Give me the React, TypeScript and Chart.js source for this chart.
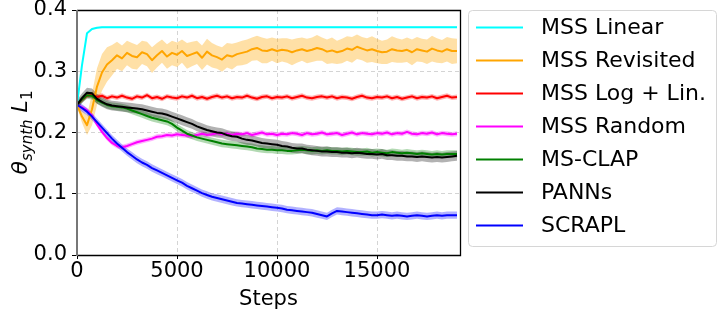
import React, { useEffect, useRef } from "react";
import { Chart, registerables } from "chart.js";

Chart.register(...registerables);

const STEPS = [
  0, 250, 500, 750, 1000, 1250, 1500, 1750, 2000, 2250,
  2500, 2750, 3000, 3250, 3500, 3750, 4000, 4250, 4500, 4750,
  5000, 5250, 5500, 5750, 6000, 6250, 6500, 6750, 7000, 7250,
  7500, 7750, 8000, 8250, 8500, 8750, 9000, 9250, 9500, 9750,
  10000, 10250, 10500, 10750, 11000, 11250, 11500, 11750, 12000, 12250,
  12500, 12750, 13000, 13250, 13500, 13750, 14000, 14250, 14500, 14750,
  15000, 15250, 15500, 15750, 16000, 16250, 16500, 16750, 17000, 17250,
  17500, 17750, 18000, 18250, 18500, 18750, 19000,
];

const X_TICKS = [0, 5000, 10000, 15000];
const Y_TICKS = [0.0, 0.1, 0.2, 0.3, 0.4];

const SERIES_NAMES = [
  "MSS Linear",
  "MSS Revisited",
  "MSS Log + Lin.",
  "MSS Random",
  "MS-CLAP",
  "PANNs",
  "SCRAPL",
];

const MSS_LINEAR = [
  0.245, 0.310, 0.362, 0.369, 0.371, 0.372, 0.372, 0.372, 0.372, 0.372,
  0.372, 0.372, 0.372, 0.372, 0.372, 0.372, 0.372, 0.372, 0.372, 0.372,
  0.372, 0.372, 0.372, 0.372, 0.372, 0.372, 0.372, 0.372, 0.372, 0.372,
  0.372, 0.372, 0.372, 0.372, 0.372, 0.372, 0.372, 0.372, 0.372, 0.372,
  0.372, 0.372, 0.372, 0.372, 0.372, 0.372, 0.372, 0.372, 0.372, 0.372,
  0.372, 0.372, 0.372, 0.372, 0.372, 0.372, 0.372, 0.372, 0.372, 0.372,
  0.372, 0.372, 0.372, 0.372, 0.372, 0.372, 0.372, 0.372, 0.372, 0.372,
  0.372, 0.372, 0.372, 0.372, 0.372, 0.372, 0.372,
];

const MSS_REVISITED = [
  0.245, 0.226, 0.212, 0.238, 0.275, 0.298, 0.311, 0.318, 0.326, 0.321,
  0.330, 0.325, 0.323, 0.331, 0.328, 0.318, 0.326, 0.333, 0.324, 0.330,
  0.327, 0.333, 0.325, 0.328, 0.331, 0.322, 0.332, 0.326, 0.323, 0.319,
  0.326, 0.324, 0.328, 0.330, 0.332, 0.336, 0.338, 0.334, 0.333, 0.336,
  0.333, 0.335, 0.334, 0.331, 0.334, 0.336, 0.333, 0.335, 0.338, 0.336,
  0.332, 0.334, 0.331, 0.333, 0.337, 0.335, 0.340, 0.337, 0.334, 0.336,
  0.333, 0.331, 0.332, 0.336, 0.334, 0.333, 0.335, 0.331, 0.336, 0.334,
  0.332, 0.337, 0.334, 0.332, 0.336, 0.333, 0.333,
];

const MSS_REVISITED_SPREAD = [
  0.003, 0.010, 0.016, 0.026, 0.030, 0.030, 0.028, 0.025, 0.022, 0.021,
  0.020, 0.021, 0.020, 0.019, 0.020, 0.021, 0.020, 0.019, 0.020, 0.020,
  0.020, 0.019, 0.021, 0.020, 0.019, 0.020, 0.021, 0.020, 0.019, 0.020,
  0.020, 0.021, 0.019, 0.020, 0.020, 0.019, 0.020, 0.021, 0.020, 0.019,
  0.020, 0.019, 0.020, 0.021, 0.020, 0.019, 0.020, 0.020, 0.021, 0.019,
  0.020, 0.021, 0.019, 0.020, 0.020, 0.021, 0.020, 0.019, 0.020, 0.021,
  0.020, 0.019, 0.020, 0.021, 0.020, 0.019, 0.020, 0.021, 0.020, 0.019,
  0.020, 0.021, 0.020, 0.019, 0.020, 0.021, 0.020,
];

const MSS_LOG_LIN = [
  0.245, 0.254, 0.260, 0.262, 0.258, 0.260, 0.256, 0.259, 0.257, 0.260,
  0.257, 0.255, 0.259, 0.257, 0.261, 0.256, 0.258, 0.255, 0.259, 0.257,
  0.256, 0.259, 0.257, 0.260, 0.256, 0.258, 0.255, 0.258, 0.260, 0.257,
  0.259, 0.256, 0.258, 0.257, 0.260, 0.257, 0.255, 0.258, 0.259, 0.256,
  0.258, 0.257, 0.259, 0.256, 0.258, 0.260, 0.257, 0.256, 0.258, 0.259,
  0.257, 0.259, 0.256, 0.258, 0.257, 0.255, 0.258, 0.260, 0.257, 0.256,
  0.258, 0.257, 0.259, 0.256, 0.258, 0.255, 0.257, 0.259, 0.256, 0.258,
  0.257, 0.259, 0.256, 0.258, 0.260, 0.257, 0.258,
];

const MSS_RANDOM = [
  0.245, 0.241, 0.236, 0.228, 0.213, 0.201, 0.191, 0.183, 0.178, 0.176,
  0.178, 0.181, 0.184, 0.186, 0.188, 0.190, 0.193, 0.194, 0.196, 0.195,
  0.197, 0.196, 0.195, 0.194, 0.196, 0.198, 0.196, 0.197, 0.199, 0.197,
  0.198, 0.196, 0.198, 0.197, 0.199, 0.196, 0.198, 0.200, 0.197, 0.198,
  0.196, 0.198, 0.197, 0.199, 0.198, 0.196, 0.199, 0.197, 0.198, 0.200,
  0.197, 0.198, 0.199, 0.196, 0.198, 0.200, 0.197, 0.199, 0.198, 0.197,
  0.199, 0.198, 0.200, 0.197, 0.199, 0.198, 0.201, 0.198, 0.197, 0.199,
  0.198, 0.200, 0.197, 0.199, 0.198, 0.197, 0.198,
];

const MS_CLAP = [
  0.245, 0.254, 0.261, 0.260, 0.253, 0.249, 0.245, 0.243, 0.242, 0.241,
  0.239, 0.236, 0.233, 0.230, 0.227, 0.224, 0.222, 0.220, 0.218, 0.214,
  0.208, 0.203, 0.198, 0.195, 0.192, 0.190, 0.188, 0.186, 0.184, 0.182,
  0.181, 0.180, 0.179, 0.178, 0.177, 0.176, 0.174, 0.173, 0.172, 0.172,
  0.171, 0.171, 0.170, 0.170, 0.171, 0.172, 0.171, 0.170, 0.171, 0.170,
  0.171, 0.170, 0.170, 0.169, 0.170, 0.169, 0.168, 0.168, 0.169, 0.167,
  0.168, 0.167, 0.166, 0.168, 0.167, 0.166, 0.167, 0.166, 0.165, 0.166,
  0.165, 0.164, 0.165, 0.164, 0.165, 0.165, 0.165,
];

const PANNS = [
  0.245, 0.256, 0.265, 0.264, 0.255, 0.250, 0.246, 0.244, 0.243, 0.242,
  0.241, 0.240, 0.239, 0.238, 0.236, 0.234, 0.232, 0.231, 0.229, 0.226,
  0.223, 0.220, 0.217, 0.214, 0.210, 0.207, 0.204, 0.202, 0.200, 0.199,
  0.196, 0.194, 0.193, 0.190, 0.188, 0.187, 0.185, 0.183, 0.182, 0.181,
  0.180, 0.178, 0.177, 0.175, 0.174, 0.174, 0.172, 0.171, 0.170, 0.169,
  0.169, 0.168, 0.168, 0.167, 0.167, 0.166, 0.167, 0.166, 0.165, 0.165,
  0.164, 0.165, 0.163, 0.163, 0.162, 0.162, 0.161, 0.161, 0.160, 0.161,
  0.160, 0.159, 0.160, 0.159, 0.160, 0.161, 0.162,
];

const SCRAPL = [
  0.245, 0.240, 0.234, 0.226, 0.217, 0.208, 0.199, 0.190, 0.182, 0.175,
  0.168, 0.162, 0.156, 0.151, 0.147, 0.142, 0.138, 0.134, 0.130, 0.126,
  0.122, 0.118, 0.113, 0.109, 0.105, 0.101, 0.098, 0.095, 0.093, 0.091,
  0.089, 0.087, 0.085, 0.084, 0.083, 0.082, 0.081, 0.080, 0.079, 0.078,
  0.077, 0.076, 0.074, 0.073, 0.072, 0.071, 0.070, 0.069, 0.067, 0.065,
  0.063, 0.068, 0.072, 0.071, 0.070, 0.069, 0.068, 0.067, 0.066, 0.065,
  0.065, 0.066, 0.065, 0.064, 0.065, 0.064, 0.063, 0.064, 0.065, 0.064,
  0.063, 0.064, 0.065, 0.064, 0.065, 0.065, 0.065,
];

// constant half-widths of the shaded bands (per series)
const SPREAD_LINEAR = 0.001;
const SPREAD_LOG_LIN = 0.004;
const SPREAD_RANDOM = 0.004;
const SPREAD_CLAP = 0.006;
const SPREAD_PANNS = 0.008;
const SPREAD_SCRAPL = 0.006;

const FONT = "'DejaVu Sans', 'Liberation Sans', sans-serif";

export default function App() {
  const ref = useRef<HTMLCanvasElement>(null);

  useEffect(() => {
    const canvas = ref.current;
    if (!canvas) return;

    const series = [
      { name: SERIES_NAMES[0], mean: MSS_LINEAR, spread: (i: number) => SPREAD_LINEAR, color: "#00ffff", band: "rgba(0,255,255,0.3)" },
      { name: SERIES_NAMES[1], mean: MSS_REVISITED, spread: (i: number) => MSS_REVISITED_SPREAD[i], color: "#ffa500", band: "rgba(255,165,0,0.35)" },
      { name: SERIES_NAMES[2], mean: MSS_LOG_LIN, spread: (i: number) => SPREAD_LOG_LIN, color: "#ff0000", band: "rgba(255,0,0,0.3)" },
      { name: SERIES_NAMES[3], mean: MSS_RANDOM, spread: (i: number) => SPREAD_RANDOM, color: "#ff00ff", band: "rgba(255,0,255,0.3)" },
      { name: SERIES_NAMES[4], mean: MS_CLAP, spread: (i: number) => SPREAD_CLAP, color: "#008000", band: "rgba(0,128,0,0.3)" },
      { name: SERIES_NAMES[5], mean: PANNS, spread: (i: number) => SPREAD_PANNS, color: "#000000", band: "rgba(0,0,0,0.3)" },
      { name: SERIES_NAMES[6], mean: SCRAPL, spread: (i: number) => SPREAD_SCRAPL, color: "#0000ff", band: "rgba(0,0,255,0.3)" },
    ];

    const datasets: any[] = [];
    series.forEach((s, k) => {
      datasets.push({
        label: s.name + " lower",
        data: s.mean.map((v, i) => ({ x: STEPS[i], y: v - s.spread(i) })),
        borderColor: "rgba(0,0,0,0)",
        borderWidth: 0,
        pointRadius: 0,
        fill: false,
        order: 100 - 2 * k,
      });
      datasets.push({
        label: s.name + " upper",
        data: s.mean.map((v, i) => ({ x: STEPS[i], y: v + s.spread(i) })),
        borderColor: "rgba(0,0,0,0)",
        borderWidth: 0,
        pointRadius: 0,
        backgroundColor: s.band,
        fill: "-1",
        order: 99 - 2 * k,
      });
    });
    series.forEach((s, k) => {
      datasets.push({
        label: s.name,
        data: s.mean.map((v, i) => ({ x: STEPS[i], y: v })),
        borderColor: s.color,
        borderWidth: 2,
        pointRadius: 0,
        fill: false,
        tension: 0,
        borderJoinStyle: "round",
        order: 50 - k,
      });
    });

    const decor = {
      id: "decor",
      afterDraw(chart: any) {
        const ctx = chart.ctx;
        const a = chart.chartArea;
        ctx.save();
        // spines
        ctx.lineWidth = 1.3;
        ctx.strokeStyle = "#000";
        ctx.beginPath();
        ctx.moveTo(a.left, a.top + 0.5);
        ctx.lineTo(a.right + 0.5, a.top + 0.5);
        ctx.lineTo(a.right + 0.5, a.bottom + 0.5);
        ctx.lineTo(a.left, a.bottom + 0.5);
        ctx.stroke();
        ctx.strokeStyle = "#777";
        ctx.lineWidth = 2;
        ctx.beginPath();
        ctx.moveTo(a.left, a.top);
        ctx.lineTo(a.left, a.bottom + 1);
        ctx.stroke();

        // x title
        ctx.fillStyle = "#000";
        ctx.font = `21px ${FONT}`;
        ctx.textAlign = "center";
        ctx.textBaseline = "alphabetic";
        ctx.fillText("Steps", (a.left + a.right) / 2, 305);

        // y title with subscripts
        const big = `italic 22px ${FONT}`;
        const small = `italic 15px ${FONT}`;
        const smallUp = `15px ${FONT}`;
        const parts = [
          { t: "θ", f: big, dy: 0 },
          { t: "synth", f: small, dy: 5 },
          { t: " ", f: big, dy: 0 },
          { t: "L", f: big, dy: 0 },
          { t: "1", f: smallUp, dy: 5 },
        ];
        let total = 0;
        const widths = parts.map((p) => {
          ctx.font = p.f;
          const w = ctx.measureText(p.t).width;
          total += w;
          return w;
        });
        ctx.translate(27, (a.top + a.bottom) / 2);
        ctx.rotate(-Math.PI / 2);
        ctx.textAlign = "left";
        let cx = -total / 2;
        parts.forEach((p, i) => {
          ctx.font = p.f;
          ctx.fillText(p.t, cx, p.dy);
          cx += widths[i];
        });
        ctx.restore();

        // legend
        ctx.save();
        const bx = 468.5, by = 10.5, bw = 248, bh = 236, r = 4;
        ctx.beginPath();
        ctx.moveTo(bx + r, by);
        ctx.lineTo(bx + bw - r, by);
        ctx.arcTo(bx + bw, by, bx + bw, by + r, r);
        ctx.lineTo(bx + bw, by + bh - r);
        ctx.arcTo(bx + bw, by + bh, bx + bw - r, by + bh, r);
        ctx.lineTo(bx + r, by + bh);
        ctx.arcTo(bx, by + bh, bx, by + bh - r, r);
        ctx.lineTo(bx, by + r);
        ctx.arcTo(bx, by, bx + r, by, r);
        ctx.closePath();
        ctx.fillStyle = "rgba(255,255,255,0.8)";
        ctx.fill();
        ctx.strokeStyle = "#d6d6d6";
        ctx.lineWidth = 1;
        ctx.stroke();
        ctx.font = `22px ${FONT}`;
        ctx.textAlign = "left";
        ctx.textBaseline = "middle";
        series.forEach((s, k) => {
          const y = 27.5 + k * 33;
          ctx.strokeStyle = s.color;
          ctx.lineWidth = 2;
          ctx.beginPath();
          ctx.moveTo(476, y);
          ctx.lineTo(523, y);
          ctx.stroke();
          ctx.fillStyle = "#000";
          ctx.fillText(s.name, 541, y + 1);
        });
        ctx.restore();
      },
    };

    const gridColor = (edgeValues: number[]) => (c: any) => {
      const v = c.tick ? c.tick.value : null;
      if (v === null) return "rgba(0,0,0,0)";
      return edgeValues.some((e) => Math.abs(e - v) < 1e-9) ? "rgba(0,0,0,0)" : "#d4d4d4";
    };

    const chart = new Chart(canvas, {
      type: "line",
      data: { datasets },
      plugins: [decor],
      options: {
        animation: false,
        responsive: false,
        maintainAspectRatio: false,
        devicePixelRatio: 1,
        layout: { padding: { top: 10, right: 258, left: 0, bottom: 0 } },
        plugins: {
          legend: { display: false },
          tooltip: { enabled: false },
          title: { display: false },
        },
        elements: { line: { borderCapStyle: "butt" } },
        scales: {
          x: {
            type: "linear",
            min: 0,
            max: 19150,
            afterFit: (s: any) => {
              s.height = 56;
              s.paddingLeft = 0;
              s.paddingRight = 0;
            },
            afterBuildTicks: (s: any) => {
              s.ticks = X_TICKS.map((v) => ({ value: v }));
            },
            ticks: {
              font: { family: FONT, size: 21 },
              color: "#000",
              padding: 0,
              maxRotation: 0,
              autoSkip: false,
              callback: (v: any) => String(v),
            },
            grid: {
              color: gridColor([0]),
              lineWidth: 1,
              tickLength: 4,
              tickColor: "#000",
              drawTicks: true,
            },
            border: { display: false, dash: [4, 3] },
          },
          y: {
            type: "linear",
            min: 0,
            max: 0.4,
            afterFit: (s: any) => {
              s.width = 77;
              s.paddingTop = 0;
              s.paddingBottom = 0;
            },
            afterBuildTicks: (s: any) => {
              s.ticks = Y_TICKS.map((v) => ({ value: v }));
            },
            ticks: {
              font: { family: FONT, size: 21 },
              color: "#000",
              padding: 5,
              callback: (v: any) => Number(v).toFixed(1),
            },
            grid: {
              color: gridColor([0, 0.4]),
              lineWidth: 1,
              tickLength: 5,
              tickColor: "#000",
              drawTicks: true,
            },
            border: { display: false, dash: [4, 3] },
          },
        },
      },
    } as any);

    return () => chart.destroy();
  }, []);

  return (
    <div style={{ position: "absolute", left: 0, top: 0, width: 718, height: 311, background: "#fff" }}>
      <canvas ref={ref} width={718} height={311} style={{ display: "block", width: 718, height: 311 }} />
    </div>
  );
}
